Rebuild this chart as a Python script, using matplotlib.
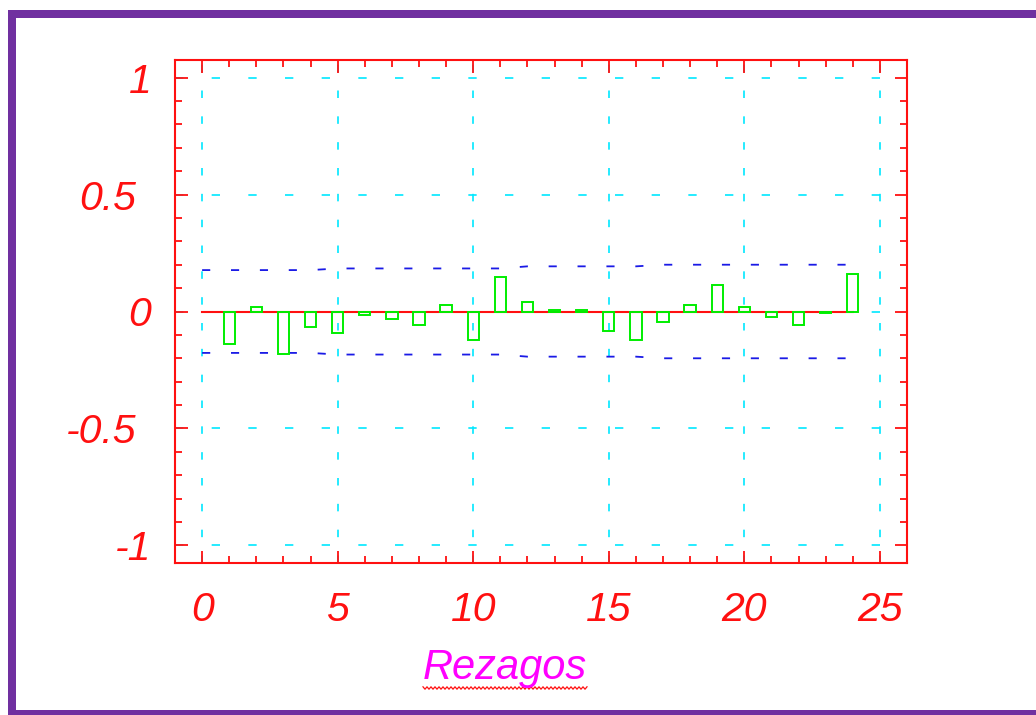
import numpy as np
import matplotlib
matplotlib.use('Agg')
import matplotlib.pyplot as plt
from matplotlib.patches import Rectangle
from matplotlib.ticker import MultipleLocator
from matplotlib.transforms import ScaledTranslation

# ── Data ──────────────────────────────────────────────────────────────────────
lags = list(range(1, 25))
acf = [-0.141, 0.020, -0.182, -0.066, -0.091, -0.016, -0.030, -0.057,
       0.028, -0.121, 0.147, 0.041, 0.005, 0.005, -0.084, -0.121,
       -0.044, 0.028, 0.113, 0.020, -0.023, -0.057, -0.006, 0.160]

band_lags = list(range(0, 25))
band = [0.177, 0.177, 0.177, 0.177, 0.177, 0.184, 0.184, 0.184, 0.184,
        0.184, 0.184, 0.184, 0.193, 0.193, 0.193, 0.193, 0.193, 0.200,
        0.200, 0.200, 0.200, 0.200, 0.200, 0.200, 0.200]

xticks = [0, 5, 10, 15, 20, 25]
yticks = [-1, -0.5, 0, 0.5, 1]
ytick_labels = ['-1', '-0.5', '0', '0.5', '1']

RED = '#FF1010'
GREEN = '#00EE00'
CYAN = '#00E8FF'
BLUE = '#1A1AE6'
PURPLE = '#7030A0'
MAGENTA = '#FF00FF'

plt.rcParams['font.family'] = ['Liberation Sans', 'DejaVu Sans']

W, H = 1036, 715
fig = plt.figure(figsize=(W / 100, H / 100), dpi=100)
ax = fig.add_axes([175 / W, 1 - 563 / H, (907 - 175) / W, (563 - 60) / H])

# ── Grid ──────────────────────────────────────────────────────────────────────
for y in yticks:
    ax.axhline(y, color=CYAN, lw=1.2, linestyle=(0, (5, 17)), zorder=1)
for x in xticks:
    ax.axvline(x, color=CYAN, lw=1.2, linestyle=(0, (4.5, 11)), zorder=1)

# ── Zero line, bars, confidence band ──────────────────────────────────────────
ax.plot([0, 24], [0, 0], color=RED, lw=1.5, zorder=2)
ax.bar(lags, acf, width=0.42, fill=False, edgecolor=GREEN, linewidth=1.4, zorder=3)
ax.plot(band_lags, band, color=BLUE, lw=1.3, linestyle=(0, (4.5, 11.5)), zorder=2)
ax.plot(band_lags, [-b for b in band], color=BLUE, lw=1.3,
        linestyle=(0, (4.5, 11.5)), zorder=2)

# ── Axes styling ──────────────────────────────────────────────────────────────
ax.set_xlim(-1, 26)
ax.set_ylim(-1.075, 1.075)
ax.set_xticks(xticks)
ax.set_yticks(yticks)
ax.set_yticklabels(ytick_labels)
ax.xaxis.set_minor_locator(MultipleLocator(1))
ax.yaxis.set_minor_locator(MultipleLocator(0.1))
for s in ax.spines.values():
    s.set_color(RED)
    s.set_linewidth(1.5)
ax.tick_params(which='both', direction='in', top=True, right=True,
               color=RED, width=1.3, labelcolor=RED, labelsize=29.5)
ax.tick_params(which='major', length=9)
ax.tick_params(which='minor', length=5)
ax.tick_params(axis='x', which='major', pad=20)
ax.tick_params(axis='y', which='major', pad=17)
for lab in ax.get_xticklabels() + ax.get_yticklabels():
    lab.set_fontstyle('italic')
# decimal labels sit further left in the original
for lab in ax.get_yticklabels():
    if '.' in lab.get_text():
        lab.set_transform(lab.get_transform() +
                          ScaledTranslation(-0.15, 0, fig.dpi_scale_trans))

# ── X label with spell-check squiggle ─────────────────────────────────────────
fig.text(505 / W, 1 - 668 / H, 'Rezagos', color=MAGENTA, fontsize=30,
         style='italic', ha='center', va='center')
sq_x = np.arange(423, 588, 2.0)
sq_y = 688 + np.where(np.arange(len(sq_x)) % 2 == 0, -1.2, 1.2)
fig.add_artist(plt.Line2D(sq_x / W, 1 - sq_y / H, color=RED, lw=0.9,
                          transform=fig.transFigure))

# ── Purple border ─────────────────────────────────────────────────────────────
for (x0, y0, w, h) in [(8, 10, 8, 705), (8, 10, 1028, 8), (8, 710, 1028, 5)]:
    fig.add_artist(Rectangle((x0 / W, 1 - (y0 + h) / H), w / W, h / H,
                             transform=fig.transFigure, color=PURPLE, lw=0))

fig.savefig('out.png', dpi=100, facecolor='white')
